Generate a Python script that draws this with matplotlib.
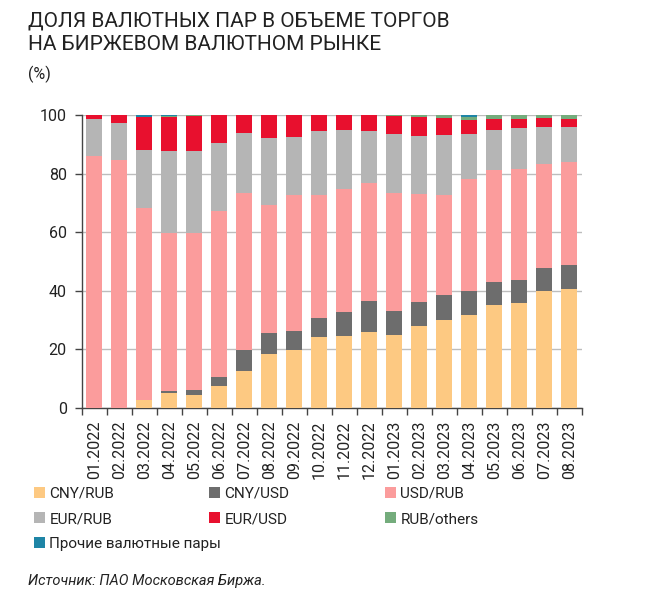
import numpy as np
import matplotlib
matplotlib.use("Agg")
import matplotlib.pyplot as plt
from matplotlib.patches import Patch

plt.rcParams['font.family'] = ['Roboto', 'DejaVu Sans']

# months on the x axis
months = ['01.2022', '02.2022', '03.2022', '04.2022', '05.2022', '06.2022',
          '07.2022', '08.2022', '09.2022', '10.2022', '11.2022', '12.2022',
          '01.2023', '02.2023', '03.2023', '04.2023', '05.2023', '06.2023',
          '07.2023', '08.2023']

# shares, %
cny_rub = [0, 0, 2.7, 5.0, 4.5, 7.6, 12.6, 18.5, 19.8, 24.3,
           24.5, 26.1, 25.0, 28.0, 30.2, 31.8, 35.1, 35.7, 40.0, 40.5]
cny_usd = [0, 0, 0, 0.8, 1.6, 3.1, 7.2, 7.0, 6.6, 6.5,
           8.3, 10.4, 8.2, 8.2, 8.3, 8.1, 7.9, 7.9, 7.8, 8.4]
usd_rub = [86.0, 84.6, 65.6, 53.8, 53.7, 56.6, 53.7, 43.7, 46.2, 41.8,
           42.1, 40.3, 40.3, 36.7, 34.1, 38.2, 38.1, 37.8, 35.4, 35.0]
eur_rub = [12.5, 12.5, 19.7, 28.0, 27.9, 23.3, 20.2, 23.1, 19.9, 22.0,
           19.9, 17.6, 19.9, 19.9, 20.4, 15.3, 13.7, 14.0, 12.7, 12.0]
eur_usd = [1.5, 2.9, 11.3, 11.7, 12.0, 9.3, 6.3, 7.7, 7.5, 5.4,
           5.1, 5.6, 6.3, 6.5, 6.0, 5.0, 3.7, 3.1, 2.9, 2.7]
rub_others = [0, 0, 0, 0.4, 0.2, 0.1, 0, 0, 0, 0,
              0.1, 0, 0.3, 0.7, 1.0, 0.9, 1.5, 1.5, 1.2, 1.4]
other_pairs = [0, 0, 0.7, 0.3, 0.1, 0, 0, 0, 0, 0,
               0, 0, 0, 0, 0, 0.7, 0, 0, 0, 0]

series = [
    ('CNY/RUB', cny_rub, '#fdc982'),
    ('CNY/USD', cny_usd, '#6d6d6d'),
    ('USD/RUB', usd_rub, '#fb9c9c'),
    ('EUR/RUB', eur_rub, '#b5b5b5'),
    ('EUR/USD', eur_usd, '#e8102e'),
    ('RUB/others', rub_others, '#74ac7c'),
    ('Прочие валютные пары', other_pairs, '#1e85a6'),
]

fig = plt.figure(figsize=(6.47, 5.97), dpi=100)
ax = fig.add_axes([0.1267, 0.3166, 0.7728, 0.4908])

x = np.arange(len(months))
bottom = np.zeros(len(months))
handles = {}
for name, vals, col in series:
    vals = np.array(vals)
    ax.bar(x, vals, bottom=bottom, width=0.64, color=col, zorder=3)
    bottom += vals
    handles[name] = Patch(facecolor=col, edgecolor='none')

ax.set_xlim(-0.5, len(months) - 0.5)
ax.set_ylim(0, 100)
ax.set_yticks([0, 20, 40, 60, 80, 100])
ax.yaxis.grid(True, color='#bdbdbd', linewidth=1.0, zorder=0)
ax.set_xticks(x)
ax.set_xticklabels(months, rotation=90, fontsize=11.5, color='#222222')
ax.set_xticks(np.arange(len(months) + 1) - 0.5, minor=True)
ax.tick_params(axis='x', which='major', length=0, pad=9)
ax.tick_params(axis='x', which='minor', length=5, width=1, color='#444444', direction='out')
ax.tick_params(axis='y', length=5, width=1, color='#444444', labelsize=11.5,
               labelcolor='#222222', pad=6)
for s in ['top', 'right']:
    ax.spines[s].set_visible(False)
for s in ['left', 'bottom']:
    ax.spines[s].set_color('#444444')
    ax.spines[s].set_linewidth(1.0)

fig.text(0.043, 0.981, 'ДОЛЯ ВАЛЮТНЫХ ПАР В ОБЪЕМЕ ТОРГОВ\nНА БИРЖЕВОМ ВАЛЮТНОМ РЫНКЕ',
         fontsize=15, va='top', ha='left', color='#222222', linespacing=1.3)
fig.text(0.043, 0.890, '(%)', fontsize=11.5, va='top', ha='left', color='#222222')

# legend in three columns
cols = [(['CNY/RUB', 'EUR/RUB', 'Прочие валютные пары'], 34),
        (['CNY/USD', 'EUR/USD'], 209),
        (['USD/RUB', 'RUB/others'], 385)]
for names, px in cols:
    fig.legend([handles[n] for n in names], names, loc='upper left',
               bbox_to_anchor=(px / 647, 1 - 487 / 597), frameon=False,
               fontsize=11, handlelength=0.7, handleheight=0.7,
               handletextpad=0.3, labelspacing=0.72, borderpad=0,
               borderaxespad=0, labelcolor='#222222')

fig.text(0.043, 0.020, 'Источник: ПАО Московская Биржа.', fontsize=10.5,
         style='italic', va='baseline', ha='left', color='#222222')

fig.savefig('out.png', dpi=100)
